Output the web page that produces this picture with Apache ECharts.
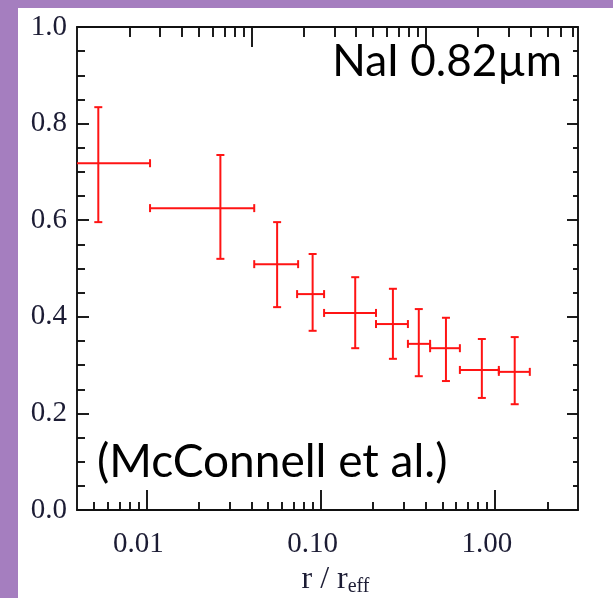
<!DOCTYPE html>
<html><head><meta charset="utf-8">
<script src="https://cdn.jsdelivr.net/npm/echarts@6/dist/echarts.min.js"></script>
<style>
html,body{margin:0;padding:0;background:#a57ebf;width:613px;height:598px;overflow:hidden}
#c{position:absolute;left:18px;top:8px;width:595px;height:590px;background:#ffffff}
</style>
</head><body><div id="c"></div>
<script>
// r / r_eff (bin centre, lower and upper edges)
const radius     = [0.0053, 0.0266, 0.0563, 0.090, 0.158, 0.260, 0.366, 0.524, 0.842, 1.30];
const radiusLow  = [0.0027, 0.0105, 0.0416, 0.0733, 0.1047, 0.208, 0.317, 0.425, 0.630, 1.054];
const radiusHigh = [0.0105, 0.0416, 0.0743, 0.1047, 0.208, 0.317, 0.425, 0.630, 1.054, 1.587];
// NaI 0.82 micron index values with errors
const value      = [0.718, 0.625, 0.509, 0.447, 0.408, 0.385, 0.344, 0.335, 0.290, 0.286];
const valueLow   = [0.596, 0.520, 0.420, 0.371, 0.335, 0.313, 0.277, 0.267, 0.232, 0.219];
const valueHigh  = [0.834, 0.735, 0.596, 0.530, 0.482, 0.458, 0.416, 0.398, 0.354, 0.358];
// ticks
const xMajorTicks = [0.01, 0.1, 1];
const xMinorTicks = [0.005,0.006,0.007,0.008,0.009,0.02,0.03,0.04,0.05,0.06,0.07,0.08,0.09,0.2,0.3,0.4,0.5,0.6,0.7,0.8,0.9,2];
const topMajorTicks = [1, 10];
const topMinorTicks = [0.2,0.3,0.4,0.5,0.6,0.7,0.8,0.9,2,3,4,5,6,7,8,9,20,30,40,50,60,70];
const yTickLabels = [0, 0.2, 0.4, 0.6, 0.8, 1.0];

const labelFont = 'Liberation Serif';
const labelColor = '#1c1c34';
const axisColor = '#111';
const lw = 1.9;
const chart = echarts.init(document.getElementById('c'));
const data = radius.map((r, i) => [r, value[i], radiusLow[i], radiusHigh[i], valueLow[i], valueHigh[i]]);

function xAxisBase(pos, min, max) {
  return {type: 'log', logBase: 10, position: pos, min: min, max: max, gridIndex: 0,
    splitLine: {show: false}, minorTick: {show: false}, minorSplitLine: {show: false}};
}
const option = {
  animation: false,
  grid: {left: 59, right: 35, top: 19, bottom: 88, outerBoundsMode: 'none'},
  xAxis: [
    Object.assign(xAxisBase('bottom', 0.004, 3), {
      axisLine: {show: true, lineStyle: {color: axisColor, width: lw}},
      axisTick: {show: true, inside: true, length: 20, customValues: xMajorTicks, lineStyle: {color: axisColor, width: lw}},
      axisLabel: {show: true, customValues: xMajorTicks, margin: 20, fontFamily: labelFont, fontSize: 29, color: labelColor,
        padding: [0, 16, 0, 0], formatter: v => Number(v).toFixed(2)},
      name: '{a|r / r}{b|eff}', nameLocation: 'middle', nameGap: 52,
      nameTextStyle: {rich: {
        a: {fontFamily: labelFont, fontSize: 32, color: labelColor, padding: [0, 0, 0, 16]},
        b: {fontFamily: labelFont, fontSize: 20, color: labelColor, verticalAlign: 'bottom', padding: [14, 0, 0, 0]}
      }}
    }),
    Object.assign(xAxisBase('bottom', 0.004, 3), {
      axisLine: {show: false},
      axisTick: {show: true, inside: true, length: 8, customValues: xMinorTicks, lineStyle: {color: axisColor, width: lw}},
      axisLabel: {show: false}
    }),
    Object.assign(xAxisBase('top', 0.1, 75), {
      axisLine: {show: true, lineStyle: {color: axisColor, width: lw}},
      axisTick: {show: true, inside: true, length: 20, customValues: topMajorTicks, lineStyle: {color: axisColor, width: lw}},
      axisLabel: {show: false}
    }),
    Object.assign(xAxisBase('top', 0.1, 75), {
      axisLine: {show: false},
      axisTick: {show: true, inside: true, length: 10, customValues: topMinorTicks, lineStyle: {color: axisColor, width: lw}},
      axisLabel: {show: false}
    })
  ],
  yAxis: [
    {type: 'value', position: 'left', min: 0, max: 1, interval: 0.2,
      splitLine: {show: false},
      axisLine: {show: true, lineStyle: {color: axisColor, width: lw}},
      axisTick: {show: true, inside: true, length: 12, lineStyle: {color: axisColor, width: lw}},
      minorTick: {show: true, splitNumber: 4, length: 8, lineStyle: {color: axisColor, width: lw}},
      axisLabel: {show: true, margin: 10, fontFamily: labelFont, fontSize: 29, color: labelColor,
        customValues: yTickLabels, formatter: v => Number(v).toFixed(1)}},
    {type: 'value', position: 'right', min: 0, max: 1, interval: 0.2,
      splitLine: {show: false},
      axisLine: {show: true, lineStyle: {color: axisColor, width: lw}},
      axisTick: {show: true, inside: true, length: 11, lineStyle: {color: axisColor, width: lw}},
      minorTick: {show: true, splitNumber: 4, length: 5, lineStyle: {color: axisColor, width: lw}},
      axisLabel: {show: false}}
  ],
  series: [{
    type: 'custom', xAxisIndex: 0, yAxisIndex: 0, clip: true,
    encode: {x: [0, 2, 3], y: [1, 4, 5]},
    data: data,
    renderItem: function (params, api) {
      const x = api.value(0), y = api.value(1);
      const c = api.coord([x, y]);
      const xl = api.coord([api.value(2), y])[0];
      const xh = api.coord([api.value(3), y])[0];
      const yl = api.coord([x, api.value(4)])[1];
      const yh = api.coord([x, api.value(5)])[1];
      const cap = 4;
      const st = {stroke: '#ff1414', lineWidth: 2};
      const L = (x1, y1, x2, y2) => ({type: 'line', shape: {x1, y1, x2, y2}, style: st});
      return {type: 'group', children: [
        L(xl, c[1], xh, c[1]),
        L(c[0], yl, c[0], yh),
        L(xl, c[1] - cap, xl, c[1] + cap),
        L(xh, c[1] - cap, xh, c[1] + cap),
        L(c[0] - cap, yl, c[0] + cap, yl),
        L(c[0] - cap, yh, c[0] + cap, yh)
      ]};
    }
  }],
  graphic: [
    {type: 'text', right: 595 - 544, top: 32, style: {text: 'NaI 0.82µm', font: '44px Lato', fill: '#000'}},
    {type: 'text', left: 79, top: 431, style: {text: '(McConnell et al.)', font: '46px Lato', fill: '#000'}}
  ]
};
chart.setOption(option);
</script>
</body></html>
